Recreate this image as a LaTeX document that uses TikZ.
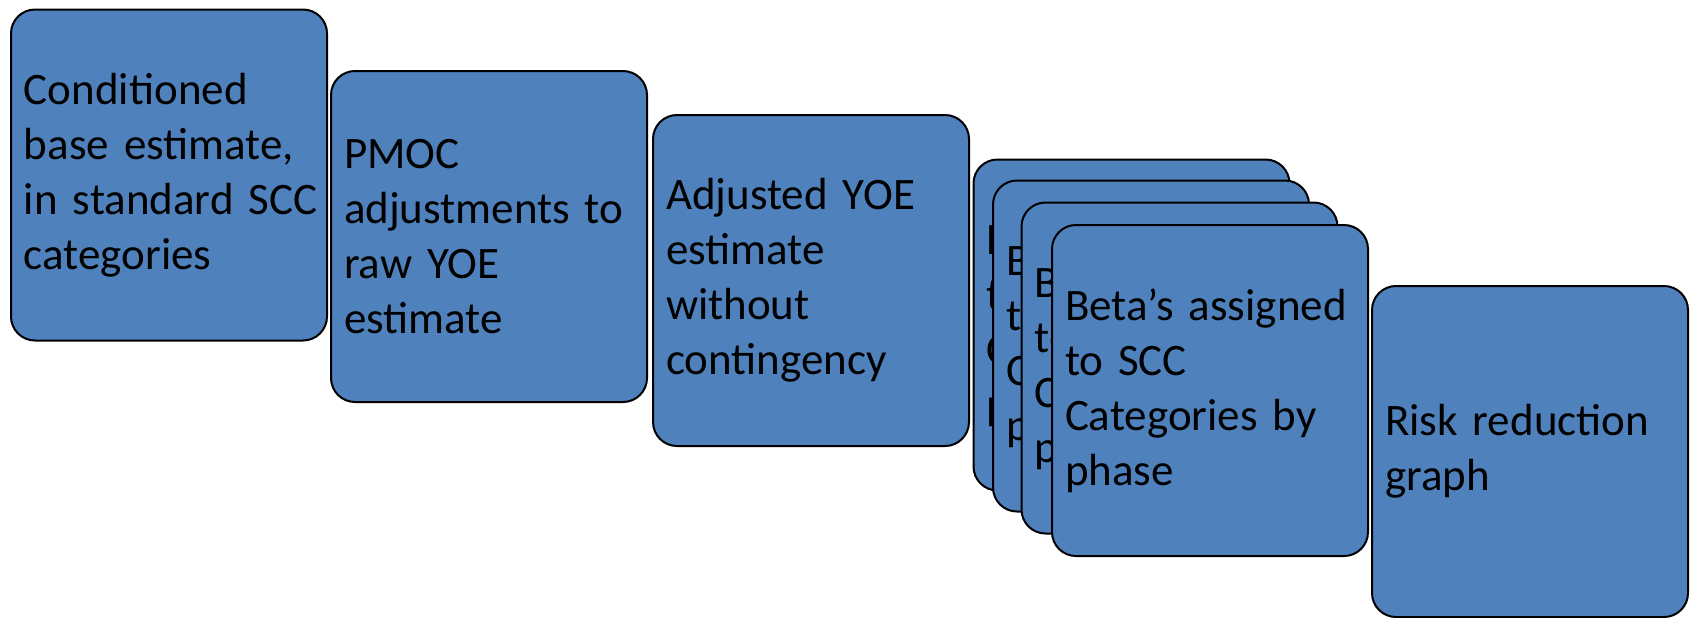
\documentclass[tikz,border=0pt]{standalone}
\usepackage{fontspec}
\setmainfont{Carlito}
\definecolor{cardblue}{HTML}{4F81BD}
\tikzset{
  card/.style={draw=black, line width=1pt, fill=cardblue, rounded corners=12pt,
    minimum width=158pt, minimum height=165.5pt, text width=145pt,
    inner xsep=6.5pt, inner ysep=0pt, align=left,
    font=\fontsize{22.5pt}{27.5pt}\selectfont}
}
\begin{document}
\begin{tikzpicture}[x=0.5pt,y=-0.5pt]
\useasboundingbox (0,0) rectangle (1692,617);
\node[card] (n1) at (169,175) {Conditioned\\base estimate,\\\mbox{in standard SCC}\\categories};
\node[card] (n2) at (489,236.5) {PMOC\\adjustments to\\raw YOE\\estimate};
\node[card] (n3) at (811,280.5) {Adjusted YOE\\estimate\\without\\contingency};
\node[card] (s1) at (1131.5,325) {Beta’s assigned\\to SCC\\Categories by\\phase};
\node[card] (s2) at (1151,346) {Beta’s assigned\\to SCC\\Categories by\\phase};
\node[card] (s3) at (1179.5,368) {Beta’s assigned\\to SCC\\Categories by\\phase};
\node[card] (s4) at (1210,390.5) {Beta’s assigned\\to SCC\\Categories by\\phase};
\node[card] (n5) at (1530,451.5) {Risk reduction\\graph};
\end{tikzpicture}
\end{document}
